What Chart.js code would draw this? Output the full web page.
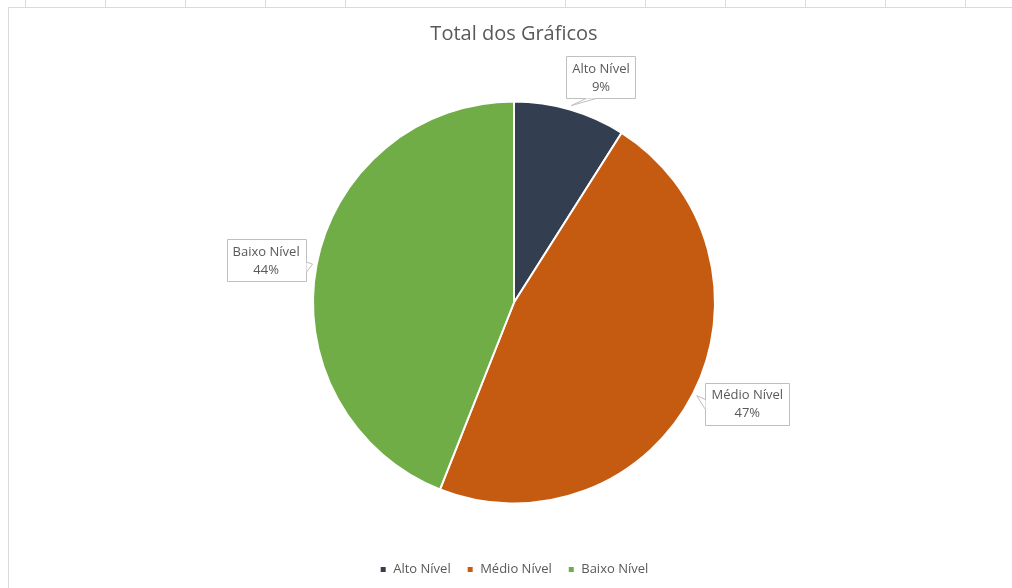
<!DOCTYPE html>
<html>
<head>
<meta charset="utf-8">
<script src="https://cdn.jsdelivr.net/npm/chart.js@4"></script>
<style>
  html, body { margin: 0; padding: 0; background: #fff; }
  #wrap { width: 1012px; height: 588px; position: relative; }
</style>
</head>
<body>
<div id="wrap"><canvas id="myChart" width="1012" height="588"></canvas></div>
<script>
// data
const labels = ['Alto Nível', 'Médio Nível', 'Baixo Nível'];
const values = [9, 47, 44];
const colors = ['#333F50', '#C55A11', '#70AD47'];
const sheetColumns = [25, 105, 185, 265, 345, 565, 645, 725, 805, 885, 965];

const FONT = "'Open Sans', 'Noto Sans', sans-serif";
const GREY = '#595959';

// spreadsheet edges behind the chart
const sheet = {
  id: 'sheet',
  beforeDraw(chart) {
    const ctx = chart.ctx;
    ctx.save();
    ctx.fillStyle = '#fff';
    ctx.fillRect(0, 0, chart.width, chart.height);
    ctx.strokeStyle = '#dadada';
    ctx.lineWidth = 1;
    ctx.beginPath();
    sheetColumns.forEach(x => { ctx.moveTo(x + 0.5, 0); ctx.lineTo(x + 0.5, 7); });
    ctx.moveTo(8.5, 7.5); ctx.lineTo(chart.width, 7.5);
    ctx.moveTo(8.5, 7.5); ctx.lineTo(8.5, chart.height);
    ctx.stroke();
    ctx.restore();
  }
};

// Excel like callout labels
const callouts = {
  id: 'callouts',
  afterDatasetsDraw(chart, args, opts) {
    const ctx = chart.ctx;
    const meta = chart.getDatasetMeta(0);
    const data = chart.data.datasets[0].data;
    const total = data.reduce((a, b) => a + b, 0);
    ctx.save();
    ctx.font = '13px ' + FONT;
    meta.data.forEach((arc, i) => {
      const p = arc.getProps(['x', 'y', 'startAngle', 'endAngle', 'outerRadius'], true);
      const mid = (p.startAngle + p.endAngle) / 2;
      const nudge = opts.nudge[i] || [0, 0];
      const cx = p.x + Math.cos(mid) * p.outerRadius * opts.dist + nudge[0];
      const cy = p.y + Math.sin(mid) * p.outerRadius * opts.dist + nudge[1];
      const tip = [p.x + Math.cos(mid) * p.outerRadius * 1.02, p.y + Math.sin(mid) * p.outerRadius * 1.02];
      const l1 = chart.data.labels[i];
      const l2 = Math.round(data[i] / total * 100) + '%';
      const w = Math.round(Math.max(ctx.measureText(l1).width, ctx.measureText(l2).width) + 12);
      const h = 42;
      const x0 = Math.round(cx - w / 2) + 0.5, y0 = Math.round(cy - h / 2) + 0.5;

      ctx.fillStyle = '#fff';
      ctx.strokeStyle = '#bfbfbf';
      ctx.lineWidth = 1;
      ctx.beginPath();
      ctx.rect(x0, y0, w, h);
      ctx.fill();
      ctx.stroke();

      // pointer toward the slice
      const dx = tip[0] - cx, dy = tip[1] - cy;
      let a, b;
      if (Math.abs(dy) / h > Math.abs(dx) / w) {
        const ey = dy > 0 ? y0 + h : y0;
        const bx = Math.min(Math.max(cx + dx * 0.5, x0 + 4), x0 + w - 14);
        a = [bx, ey]; b = [bx + 10, ey];
      } else {
        const ex = dx > 0 ? x0 + w : x0;
        const by = Math.min(Math.max(cy + dy * 0.5, y0 + 4), y0 + h - 14);
        a = [ex, by]; b = [ex, by + 10];
      }
      ctx.beginPath();
      ctx.moveTo(a[0], a[1]);
      ctx.lineTo(tip[0], tip[1]);
      ctx.lineTo(b[0], b[1]);
      ctx.closePath();
      ctx.fill();
      ctx.beginPath();
      ctx.moveTo(a[0], a[1]);
      ctx.lineTo(tip[0], tip[1]);
      ctx.lineTo(b[0], b[1]);
      ctx.stroke();

      ctx.fillStyle = GREY;
      ctx.textAlign = 'center';
      ctx.textBaseline = 'middle';
      ctx.fillText(l1, cx, cy - 8);
      ctx.fillText(l2, cx, cy + 10);
    });
    ctx.restore();
  }
};

const config = {
  type: 'pie',
  data: {
    labels: labels,
    datasets: [{
      data: values,
      backgroundColor: colors,
      borderColor: '#fff',
      borderWidth: 2,
      radius: 201
    }]
  },
  plugins: [sheet, callouts],
  options: {
    responsive: false,
    animation: false,
    layout: { padding: { left: 16, right: 0, top: 8, bottom: 2 } },
    plugins: {
      title: {
        display: true,
        text: 'Total dos Gráficos',
        color: GREY,
        font: { family: FONT, size: 20, weight: 'normal' },
        padding: { top: 14, bottom: 12 }
      },
      legend: {
        position: 'bottom',
        labels: {
          color: GREY,
          font: { family: FONT, size: 13 },
          boxWidth: 7,
          boxHeight: 7,
          padding: 16
        }
      },
      tooltip: { enabled: false },
      callouts: { dist: 1.23, nudge: [[18, 12], [13, -11], [-5, 4]] }
    }
  }
};

const ctx = document.getElementById('myChart').getContext('2d');
const myChart = new Chart(ctx, config);
</script>
</body>
</html>
